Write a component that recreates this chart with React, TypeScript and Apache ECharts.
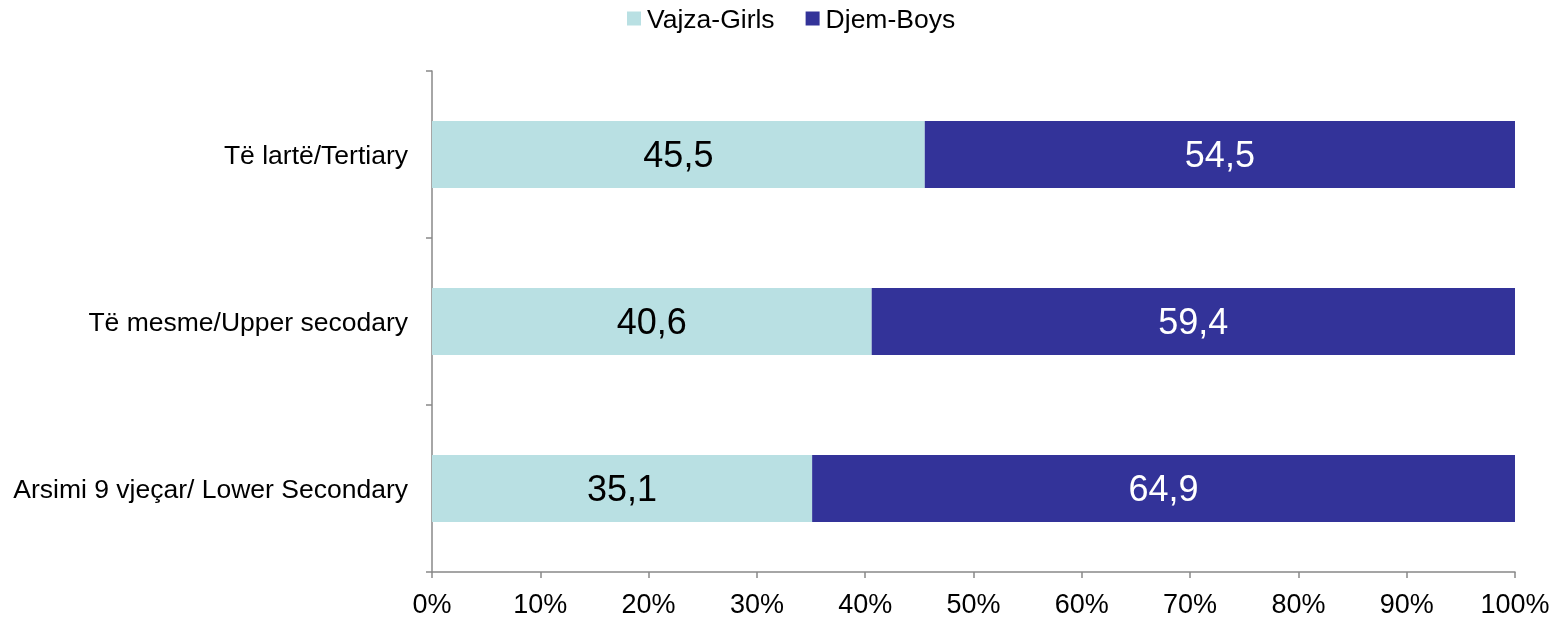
import React, { useEffect, useRef } from "react";
import * as echarts from "echarts";

const categories = ["Arsimi 9 vjeçar/ Lower Secondary", "Të mesme/Upper secodary", "Të lartë/Tertiary"];
const girls = [35.1, 40.6, 45.5];
const boys = [64.9, 59.4, 54.5];
const seriesNames = ["Vajza-Girls", "Djem-Boys"];

const FONT = "'Liberation Sans', Arial, sans-serif";

export default function App() {
  const ref = useRef<HTMLDivElement>(null);
  useEffect(() => {
    const chart = echarts.init(ref.current!, null, { renderer: "svg" });
    const fmt = (p: any) => String(p.value).replace(".", ",");
    chart.setOption({
      animation: false,
      textStyle: { fontFamily: FONT },
      legend: {
        top: 0,
        left: 622,
        icon: "rect",
        itemWidth: 14,
        itemHeight: 14,
        itemGap: 31,
        textStyle: { fontSize: 26.5, color: "#000", fontFamily: FONT, padding: [0, 0, 0, 1] },
        data: seriesNames,
      },
      grid: { left: 432, right: 43, top: 71, bottom: 44, containLabel: false },
      xAxis: {
        type: "value",
        min: 0,
        max: 100,
        interval: 10,
        axisLine: { show: true, lineStyle: { color: "#888", width: 1.5 } },
        axisTick: { show: true, length: 6, lineStyle: { color: "#888", width: 1.5 } },
        splitLine: { show: false },
        axisLabel: { formatter: "{value}%", fontSize: 27, color: "#000", margin: 18, fontFamily: FONT },
      },
      yAxis: {
        type: "category",
        data: categories,
        axisLine: { show: true, lineStyle: { color: "#888", width: 1.5 } },
        axisTick: { show: true, length: 6, alignWithLabel: false, lineStyle: { color: "#888", width: 1.5 } },
        axisLabel: { fontSize: 26.5, color: "#000", margin: 24, fontFamily: FONT },
      },
      series: [
        {
          name: seriesNames[0],
          type: "bar",
          stack: "total",
          data: girls,
          barWidth: "40%",
          itemStyle: { color: "#B9E0E3" },
          label: { show: true, position: "inside", formatter: fmt, fontSize: 36, color: "#000", fontFamily: FONT },
        },
        {
          name: seriesNames[1],
          type: "bar",
          stack: "total",
          data: boys,
          barWidth: "40%",
          itemStyle: { color: "#333399" },
          label: { show: true, position: "inside", formatter: fmt, fontSize: 36, color: "#fff", fontFamily: FONT },
        },
      ],
    });
    return () => chart.dispose();
  }, []);
  return <div ref={ref} style={{ position: "fixed", left: 0, top: 0, width: 1558, height: 617 }} />;
}
